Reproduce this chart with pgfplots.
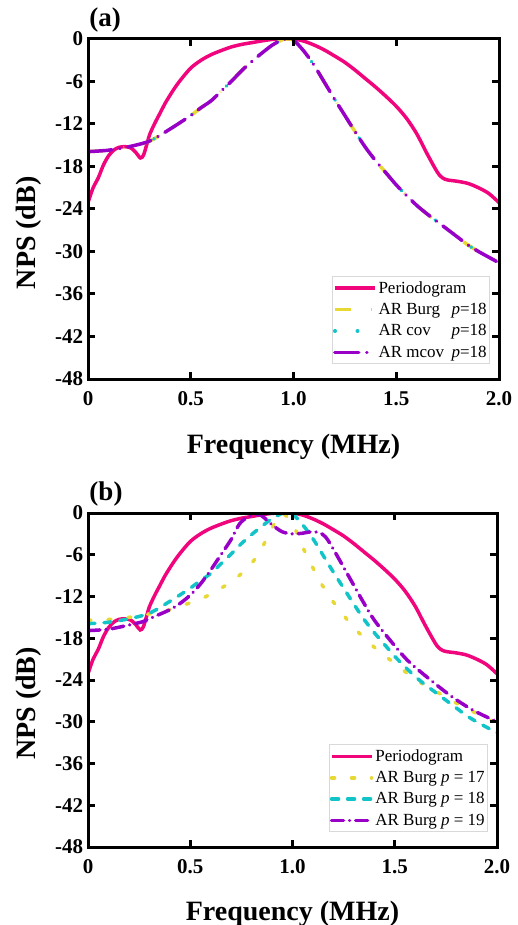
\documentclass[border=0pt]{standalone}
\usepackage{pgfplots}
\usepackage{pgfplotstable}
\usepackage{fontspec}
\setmainfont{Liberation Serif}
\pgfplotsset{compat=1.18}

\definecolor{cPer}{RGB}{240,5,125}
\definecolor{cYel}{RGB}{232,216,52}
\definecolor{cCya}{RGB}{18,196,200}
\definecolor{cPur}{RGB}{152,0,200}

% periodogram (same in both panels)
\pgfplotstableread{
f db
0 -23.1
0.025 -21.0
0.05 -19.6
0.075 -17.8
0.1 -16.5
0.125 -15.7
0.15 -15.3
0.18 -15.2
0.21 -15.4
0.235 -16.1
0.255 -16.8
0.27 -16.4
0.285 -15.0
0.3 -13.5
0.325 -11.9
0.35 -10.5
0.375 -9.1
0.4 -7.9
0.42 -7.0
0.45 -5.8
0.5 -4.1
0.55 -3.0
0.6 -2.2
0.66 -1.5
0.7 -1.1
0.75 -0.75
0.8 -0.5
0.85 -0.25
0.9 -0.05
0.95 0
1.0 0
1.05 -0.3
1.1 -0.85
1.15 -1.55
1.2 -2.4
1.25 -3.3
1.3 -4.4
1.35 -5.6
1.4 -6.8
1.45 -8.1
1.5 -9.5
1.55 -11.2
1.6 -13.4
1.65 -16.2
1.7 -18.8
1.725 -19.6
1.75 -19.9
1.8 -20.1
1.85 -20.4
1.9 -21.0
1.95 -21.8
2.0 -23.1
}\periodogram

% AR p=18 (Burg, cov, mcov nearly identical)
\pgfplotstableread{
f db
0 -15.9
0.1 -15.7
0.2 -15.2
0.3 -14.4
0.4 -12.7
0.5 -10.8
0.55 -9.7
0.6 -8.7
0.65 -7.3
0.7 -5.9
0.75 -4.4
0.8 -3.1
0.85 -1.9
0.9 -0.8
0.95 -0.05
0.97 0
1.0 -0.15
1.05 -1.7
1.1 -3.7
1.15 -6.1
1.2 -8.5
1.25 -10.8
1.3 -13.1
1.35 -15.3
1.4 -17.2
1.45 -18.9
1.5 -20.6
1.55 -22.1
1.6 -23.5
1.65 -24.7
1.7 -25.8
1.75 -26.9
1.8 -28.0
1.85 -29.1
1.9 -30.0
1.95 -30.8
2.0 -31.6
}\areighteen

% AR Burg p=17
\pgfplotstableread{
f db
0 -15.4
0.1 -15.3
0.2 -15.0
0.3 -14.5
0.4 -13.9
0.47 -13.2
0.55 -12.4
0.62 -11.3
0.7 -9.9
0.78 -7.9
0.84 -5.6
0.89 -2.7
0.93 -0.6
0.95 0
0.98 -0.8
1.01 -2.1
1.05 -4.9
1.1 -7.9
1.15 -10.6
1.2 -12.8
1.25 -14.7
1.3 -16.5
1.35 -17.9
1.4 -19.3
1.45 -20.5
1.5 -21.6
1.6 -23.9
1.7 -25.6
1.8 -27.3
1.9 -28.8
2.0 -30.2
}\arseventeen

% AR Burg p=19
\pgfplotstableread{
f db
0 -16.9
0.1 -16.7
0.2 -16.1
0.27 -15.6
0.3 -15.2
0.4 -13.9
0.45 -13.0
0.5 -11.8
0.55 -10.2
0.6 -8.2
0.65 -6.0
0.7 -3.8
0.74 -1.6
0.78 -0.6
0.82 -0.2
0.85 -0.4
0.9 -1.7
0.95 -2.7
1.0 -3.0
1.05 -2.9
1.09 -2.7
1.13 -2.8
1.16 -3.4
1.19 -4.7
1.25 -7.8
1.3 -10.4
1.35 -13.0
1.4 -15.4
1.475 -18.2
1.56 -21.1
1.65 -23.4
1.77 -26.2
1.88 -28.3
2.0 -30.0
}\arnineteen

\pgfplotsset{
  npsaxis/.style={
    scale only axis,
    xmin=0, xmax=2, ymin=-48, ymax=0,
    xtick={0,0.5,1,1.5,2}, xticklabels={0,0.5,1.0,1.5,2.0},
    ytick={-48,-42,...,0}, yticklabels={-48,-42,-36,-30,-24,-18,-12,-6,0},
    tick align=inside,
    major tick length=7pt,
    line width=3pt,
    every tick/.style={black, line width=3pt},
    axis on top,
    ticklabel style={font=\fontsize{21}{25}\selectfont\bfseries},
    xticklabel style={yshift=-8pt},
    label style={font=\fontsize{28}{33}\selectfont\bfseries},
    xlabel={Frequency (MHz)},
    ylabel={NPS (dB)},
    xlabel style={at={(axis description cs:0.5,-0.2)}, anchor=center},
    ylabel style={at={(axis description cs:-0.145,0.43)}, anchor=center},
    title style={at={(axis description cs:0,1)}, anchor=west, inner sep=0pt, yshift=13pt,
      font=\fontsize{27}{32}\selectfont\bfseries},
    legend cell align=left,
    legend style={at={(1,0)}, anchor=south east, xshift=-9pt, yshift=15pt,
      draw=black!15, line width=0.6pt, fill=white, row sep=4.5pt,
      font=\fontsize{17}{20}\selectfont, inner xsep=1pt, inner ysep=3pt},
    legend image code/.code={\draw[#1] (0pt,0pt) -- (40pt,0pt);},
    every axis plot/.append style={line width=3.5pt, smooth, tension=0.5},
  }
}

\begin{document}
\begin{tikzpicture}
\begin{axis}[npsaxis, width=411pt, height=340pt, at={(0pt,0pt)}, anchor=north west, title={(a)}]
\addplot[cPer] table[x=f,y=db]{\periodogram};
\addlegendentry{Periodogram}
\addplot[cYel, dash pattern=on 16pt off 20pt on 0.5pt off 20pt] table[x=f,y=db]{\areighteen};
\addlegendentry{\makebox[4.3em][l]{AR Burg}\textit{p}=18}
\addplot[cCya, line cap=round, dash pattern=on 0.5pt off 22pt] table[x=f,y=db]{\areighteen};
\addlegendentry{\makebox[4.3em][l]{AR cov}\textit{p}=18}
\addplot[cPur, line cap=round, dash pattern=on 24pt off 8pt on 0.2pt off 8pt] table[x=f,y=db]{\areighteen};
\addlegendentry{\makebox[4.3em][l]{AR mcov}\textit{p}=18}
\end{axis}

\begin{axis}[npsaxis, width=409pt, height=334pt, at={(0pt,-474pt)}, anchor=north west, title={(b)}]
\addplot[cPer] table[x=f,y=db]{\periodogram};
\addlegendentry{Periodogram}
\addplot[cYel, line cap=round, dash pattern=on 3pt off 17pt] table[x=f,y=db]{\arseventeen};
\addlegendentry{AR Burg \textit{p} = 17}
\addplot[cCya, line cap=round, dash pattern=on 7pt off 9pt] table[x=f,y=db]{\areighteen};
\addlegendentry{AR Burg \textit{p} = 18}
\addplot[cPur, line cap=round, dash pattern=on 12pt off 6pt on 0.1pt off 6pt] table[x=f,y=db]{\arnineteen};
\addlegendentry{AR Burg \textit{p} = 19}
\end{axis}

\pgfresetboundingbox
\path[use as bounding box] (-88pt,39pt) rectangle (429pt,-886pt);
\end{tikzpicture}
\end{document}
